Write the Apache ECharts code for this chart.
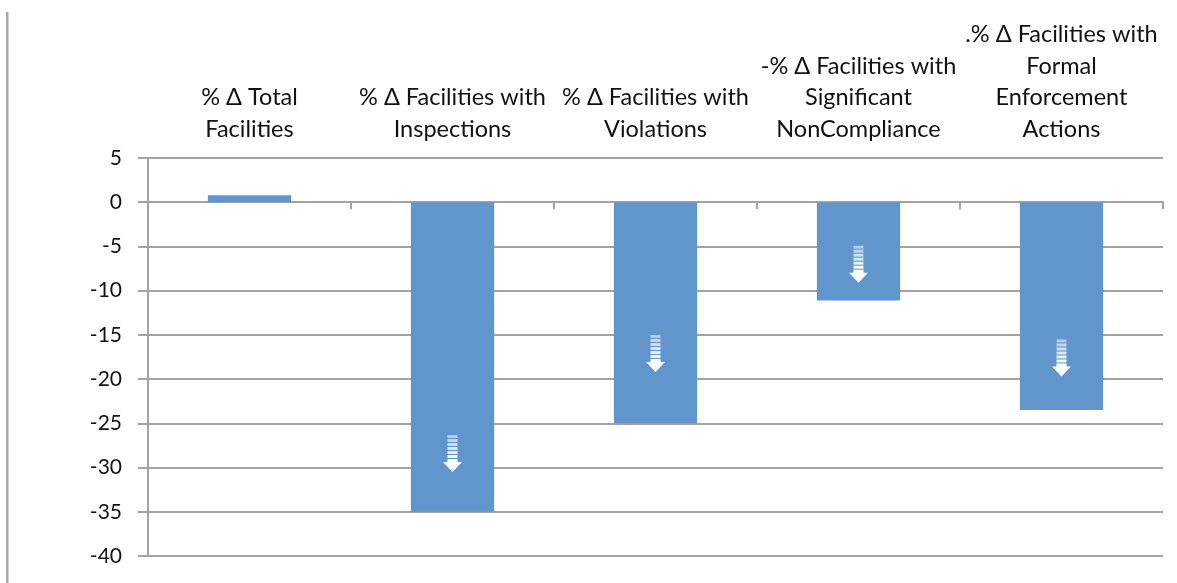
<!DOCTYPE html>
<html>
<head>
<meta charset="utf-8">
<script src="https://cdn.jsdelivr.net/npm/echarts@6/dist/echarts.min.js"></script>
<style>
  html, body { margin: 0; padding: 0; background: #fff; }
  #chart { width: 1177px; height: 583px; }
</style>
</head>
<body>
<div id="chart"></div>
<script>
// Category labels (drawn above the plot)
const categories = [
  '% Δ Total\nFacilities',
  '% Δ Facilities with\nInspections',
  '% Δ Facilities with\nViolations',
  '-% Δ Facilities with\nSignificant\nNonCompliance',
  '.% Δ Facilities with\nFormal\nEnforcement\nActions'
];

// Percent change per category
const percentChange = [0.8, -35.0, -25.0, -11.1, -23.5];

// Downward arrow markers: [category index, value at arrow tip]
const arrowTips = [
  [1, -30.5],
  [2, -19.2],
  [3, -9.1],
  [4, -19.7]
];

const FONT = 'Lato, Carlito, "Open Sans", sans-serif';
const GRID_COLOR = '#a3a3a3';

const chart = echarts.init(document.getElementById('chart'), null, { renderer: 'canvas' });

function renderArrow(params, api) {
  const pt = api.coord([api.value(0), api.value(1)]);
  const x = pt[0], y = pt[1];
  const children = [];
  // arrow head
  children.push({
    type: 'polygon',
    shape: { points: [[x, y], [x - 9.5, y - 10], [x + 9.5, y - 10]] },
    style: { fill: '#ffffff' }
  });
  // striped shaft, fading upward
  const bands = 7;
  for (let i = 0; i < bands; i++) {
    const top = y - 10 - (i + 1) * 4;
    children.push({
      type: 'rect',
      shape: { x: x - 5, y: top + 1, width: 10, height: 3 },
      style: { fill: '#ffffff', opacity: 1 - i * 0.08 }
    });
  }
  children.push({
    type: 'rect',
    shape: { x: x - 5, y: y - 11, width: 10, height: 2 },
    style: { fill: '#ffffff' }
  });
  return { type: 'group', children };
}

const option = {
  animation: false,
  backgroundColor: '#ffffff',
  grid: { left: 148, right: 14, top: 158, bottom: 27, containLabel: false },
  graphic: [
    {
      type: 'rect',
      left: 6, top: 12,
      shape: { width: 2.5, height: 571 },
      style: { fill: '#aaaaaa' }
    }
  ],
  xAxis: [
    {
      type: 'category',
      data: categories,
      position: 'top',
      axisLine: { show: false, onZero: false },
      axisTick: { show: false },
      splitLine: { show: false },
      axisLabel: {
        interval: 0,
        margin: 13,
        fontFamily: FONT,
        fontSize: 23.5,
        lineHeight: 31.5,
        color: '#111',
        align: 'center'
      }
    },
    {
      type: 'category',
      data: categories,
      position: 'bottom',
      axisLine: { show: true, onZero: true, lineStyle: { color: GRID_COLOR, width: 2 } },
      axisTick: { show: true, alignWithLabel: false, length: 7, lineStyle: { color: GRID_COLOR, width: 2 } },
      axisLabel: { show: false },
      splitLine: { show: false }
    }
  ],
  yAxis: {
    type: 'value',
    min: -40,
    max: 5,
    interval: 5,
    axisLine: { show: true, onZero: false, lineStyle: { color: GRID_COLOR, width: 2 } },
    axisTick: { show: true, length: 10, lineStyle: { color: GRID_COLOR, width: 2 } },
    splitLine: { show: true, lineStyle: { color: GRID_COLOR, width: 2 } },
    axisLabel: {
      margin: 26,
      fontFamily: FONT,
      fontSize: 21,
      color: '#111'
    }
  },
  series: [
    {
      type: 'bar',
      xAxisIndex: 0,
      data: percentChange,
      barWidth: '41%',
      itemStyle: { color: '#6096cb' },
      z: 3
    },
    {
      type: 'custom',
      xAxisIndex: 0,
      data: arrowTips,
      renderItem: renderArrow,
      z: 5,
      silent: true
    }
  ]
};

chart.setOption(option);
</script>
</body>
</html>
